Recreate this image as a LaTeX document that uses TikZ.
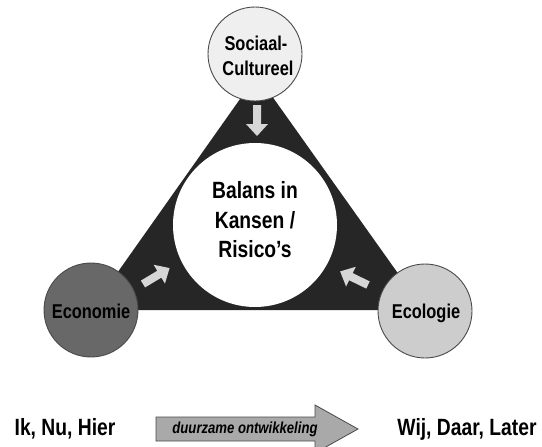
\documentclass[tikz,border=0pt]{standalone}
\usepackage{fontspec}
\setmainfont{Liberation Sans}[FakeStretch=0.82]
\definecolor{trianglefill}{HTML}{262626}
\definecolor{ringline}{HTML}{4A4A4A}
\definecolor{socialfill}{HTML}{EFEFEF}
\definecolor{econfill}{HTML}{686868}
\definecolor{ecofill}{HTML}{CDCDCD}
\definecolor{pointerfill}{HTML}{D6D6D6}
\definecolor{bigarrowfill}{HTML}{A9A9A9}
\begin{document}
\begin{tikzpicture}[x=1pt,y=-1pt,
  pole/.style={circle, draw=ringline, line width=0.9pt, minimum size=94pt, inner sep=0pt},
  poletext/.style={anchor=base, inner sep=0pt, font=\bfseries\fontsize{20}{24}\selectfont},
  coretext/.style={anchor=base, inner sep=0pt, font=\bfseries\fontsize{23.5}{29}\selectfont},
  sidetext/.style={anchor=base, inner sep=0pt, font=\bfseries\fontsize{23.5}{29}\selectfont},
  pointer/.pic={\fill[pointerfill] (0,4) -- (19,4) -- (19,11) -- (31,0) -- (19,-11) -- (19,-4) -- (0,-4) -- cycle;}
]
\clip (0,0) rectangle (542,447);

% dark triangle joining the three poles
\fill[trianglefill] (257,75) -- (91,310) -- (424,310) -- cycle;

% central balance disc
\node[circle, fill=white, minimum size=164pt, inner sep=0pt] (core) at (255,225) {};
\node[coretext] (core1) at (255,198) {Balans in};
\node[coretext] (core2) at (255,228) {Kansen /};
\node[coretext] (core3) at (255,257) {Risico’s};

% pointers towards the centre
\pic[rotate=-90] at (257,105) {pointer};
\pic[rotate=31] at (143,284) {pointer};
\pic[rotate=154] at (368,285) {pointer};

% the three poles
\node[pole, fill=socialfill] (social) at (255,54) {};
\node[poletext] (social1) at (256,50) {Sociaal-};
\node[poletext] (social2) at (258,75) {Cultureel};

\node[pole, fill=econfill] (econ) at (91,310) {};
\node[poletext] (econtext) at (91,318) {Economie};

\node[pole, fill=ecofill] (eco) at (425,311) {};
\node[poletext] (ecotext) at (426,318) {Ecologie};

% time line at the bottom
\node[sidetext] (left) at (65,435) {Ik, Nu, Hier};
\node[sidetext] (right) at (467,435) {Wij, Daar, Later};
\draw[fill=bigarrowfill, draw=ringline, line width=0.8pt]
  (156,417) -- (315,417) -- (315,405) -- (358,429) -- (315,453) -- (315,441) -- (156,441) -- cycle;
\node[anchor=base, inner sep=0pt, font=\bfseries\itshape\fontsize{16}{19}\selectfont] (dur) at (245,433) {duurzame ontwikkeling};
\end{tikzpicture}
\end{document}
